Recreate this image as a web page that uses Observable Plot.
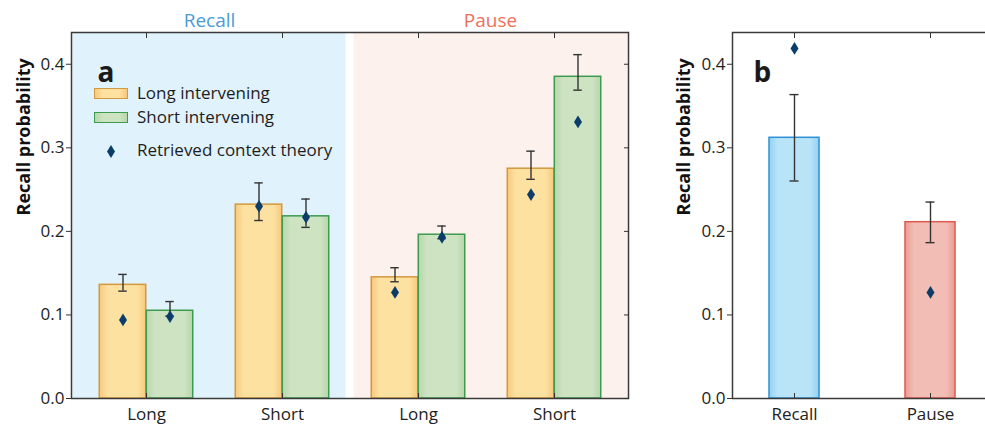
<!DOCTYPE html>
<html>
<head>
<meta charset="utf-8">
<script src="https://cdn.jsdelivr.net/npm/d3@7"></script>
<script src="https://cdn.jsdelivr.net/npm/@observablehq/plot@0.6"></script>
<style>
  html, body { margin: 0; padding: 0; background: #fff; overflow: hidden; }
  #wrap { position: relative; width: 1000px; height: 431px; display: flex; font-family: "Open Sans", sans-serif; }
  #a { position: relative; width: 640px; height: 431px; }
  #b { position: relative; width: 360px; height: 431px; }
  .leg { position: absolute; font-size: 17px; color: #1e1e1e; line-height: 1; white-space: nowrap; }
  .sw { position: absolute; width: 32px; height: 9px; border: 1.5px solid; }
</style>
</head>
<body>
<div id="wrap">
  <div id="a">
    <div class="sw" style="left:94px;top:88px;background:linear-gradient(90deg,#f6c97e,#fde1a0 25%,#fde1a0 75%,#f6c97e);border-color:#d4983e"></div>
    <div class="leg" style="left:137px;top:84px">Long intervening</div>
    <div class="sw" style="left:94px;top:112px;background:linear-gradient(90deg,#b7d6aa,#cde3c2 25%,#cde3c2 75%,#b7d6aa);border-color:#3d9b4f"></div>
    <div class="leg" style="left:137px;top:108px">Short intervening</div>
    <svg style="position:absolute;left:106px;top:144px" width="10" height="15"><polygon points="5,1 9,7.5 5,14 1,7.5" fill="#0b3d6b"/></svg>
    <div class="leg" style="left:137px;top:141px">Retrieved context theory</div>
  </div>
  <div id="b"></div>
</div>
<script>
// ---------- data (panel a) ----------
const conditions = ["Recall", "Recall", "Pause", "Pause"];
const lags = ["Long", "Short", "Long", "Short"];
const longMean  = [0.136, 0.232, 0.145, 0.275];
const longLo    = [0.1285, 0.213, 0.1397, 0.2623];
const longHi    = [0.1485, 0.258, 0.1565, 0.296];
const longModel = [0.094, 0.230, 0.127, 0.244];
const shortMean  = [0.105, 0.218, 0.196, 0.385];
const shortLo    = [0.0986, 0.2048, 0.1912, 0.369];
const shortHi    = [0.116, 0.2387, 0.2064, 0.4115];
const shortModel = [0.098, 0.217, 0.193, 0.331];
const seriesNames = ["Long intervening", "Short intervening", "Retrieved context theory"];
// ---------- data (panel b) ----------
const bConditions = ["Recall", "Pause"];
const bMean  = [0.312, 0.211];
const bLo    = [0.2603, 0.1865];
const bHi    = [0.3637, 0.2351];
const bModel = [0.419, 0.127];
// ---------- axis ----------
const yTicks = [0, 0.1, 0.2, 0.3, 0.4];
const yMax = 0.438;
const yLabel = "Recall probability";

const rows = conditions.map((c, i) => ({
  key: c + "-" + lags[i], cond: c, lag: lags[i],
  longMean: longMean[i], longLo: longLo[i], longHi: longHi[i], longModel: longModel[i],
  shortMean: shortMean[i], shortLo: shortLo[i], shortHi: shortHi[i], shortModel: shortModel[i]
}));
const keys = rows.map(d => d.key);
const lagOf = Object.fromEntries(rows.map(d => [d.key, d.lag]));
const bRows = bConditions.map((c, i) => ({cond: c, mean: bMean[i], lo: bLo[i], hi: bHi[i], model: bModel[i]}));

const ns = "http://www.w3.org/2000/svg";
function defs(id) {
  return () => {
    const d = document.createElementNS(ns, "defs");
    const g = (name, edge, mid) => `<linearGradient id="${name}${id}" x1="0" x2="1" y1="0" y2="0">
      <stop offset="0" stop-color="${edge}"/><stop offset="0.18" stop-color="${mid}"/>
      <stop offset="0.82" stop-color="${mid}"/><stop offset="1" stop-color="${edge}"/></linearGradient>`;
    d.innerHTML = g("gO", "#f6c97e", "#fde1a0") + g("gG", "#b7d6aa", "#cde3c2") +
                  g("gB", "#94d1f1", "#b9e4f8") + g("gR", "#e99c92", "#f2bdb5");
    return d;
  };
}
const tallDiamond = {
  draw(ctx, size) {
    const r = Math.sqrt(size / Math.PI);
    ctx.moveTo(0, -1.6 * r); ctx.lineTo(r, 0); ctx.lineTo(0, 1.6 * r); ctx.lineTo(-r, 0); ctx.closePath();
  }
};
const ink = "#333";
const style = {fontFamily: "'Open Sans', sans-serif", fontSize: "17px", color: "#222", background: "transparent", overflow: "visible"};

function errMarks(data, x, lo, hi, dx, capInset) {
  return [
    Plot.ruleX(data, {x, y1: lo, y2: hi, dx, stroke: ink, strokeWidth: 1.4}),
    Plot.tickY(data, {x, y: lo, dx, insetLeft: capInset, insetRight: capInset, stroke: ink, strokeWidth: 1.4}),
    Plot.tickY(data, {x, y: hi, dx, insetLeft: capInset, insetRight: capInset, stroke: ink, strokeWidth: 1.4})
  ];
}
function frameAxes(xTickFormat) {
  return [
    Plot.frame({stroke: "#3a3a3a", strokeWidth: 1.5}),
    Plot.axisY(yTicks, {tickSize: 5, tickPadding: 2, tickFormat: ".1f", label: null, stroke: ink, fontSize: 17}),
    Plot.axisY(yTicks, {anchor: "right", tickSize: 5, dx: -5, tickFormat: () => "", label: null, stroke: ink}),
    Plot.axisX({anchor: "top", tickSize: 5, dy: 5, tickFormat: () => "", label: null, stroke: ink}),
    Plot.axisX({anchor: "bottom", tickSize: 5, dy: -5, tickFormat: () => "", label: null, stroke: ink}),
    Plot.axisX({anchor: "bottom", tickSize: 0, tickPadding: 9, tickFormat: xTickFormat, label: null, fontSize: 17})
  ];
}

// ---------- panel a ----------
const half = 68.26;   // half band (px)
const barW = 47;
const plotA = Plot.plot({
  width: 640, height: 431,
  marginTop: 32, marginBottom: 33, marginLeft: 71, marginRight: 12,
  x: {domain: keys, paddingInner: 0, paddingOuter: 0.04},
  y: {domain: [0, yMax]},
  style,
  marks: [
    defs("a"),
    Plot.barY(rows.filter(d => d.cond === "Recall"), {x: "key", y1: 0, y2: yMax, fill: "#e0f2fb", insetLeft: -5.5, insetRight: 4.5}),
    Plot.barY(rows.filter(d => d.cond === "Pause"), {x: "key", y1: 0, y2: yMax, fill: "#fdf1ee", insetLeft: 3.5, insetRight: -5.5}),
    Plot.barY(rows, {x: "key", y: "longMean", fill: "url(#gOa)", stroke: "#d4983e", strokeWidth: 1.5, insetLeft: half - barW, insetRight: half}),
    Plot.barY(rows, {x: "key", y: "shortMean", fill: "url(#gGa)", stroke: "#3d9b4f", strokeWidth: 1.5, insetLeft: half, insetRight: half - barW}),
    ...errMarks(rows, "key", "longLo", "longHi", -barW / 2, half - 4.5),
    ...errMarks(rows, "key", "shortLo", "shortHi", barW / 2, half - 4.5),
    Plot.dot(rows, {x: "key", y: "longModel", dx: -barW / 2, symbol: tallDiamond, r: 4, fill: "#0b3d6b", stroke: "none"}),
    Plot.dot(rows, {x: "key", y: "shortModel", dx: barW / 2, symbol: tallDiamond, r: 4, fill: "#0b3d6b", stroke: "none"}),
    ...frameAxes(k => lagOf[k]),
    Plot.text([rows[0]], {x: "key", text: "cond", frameAnchor: "top", dx: 63, dy: -6, lineAnchor: "bottom", fill: "#4b9bd9", fontSize: 19}),
    Plot.text([rows[2]], {x: "key", text: "cond", frameAnchor: "top", dx: 72, dy: -6, lineAnchor: "bottom", fill: "#ef6f5c", fontSize: 19}),
    Plot.text(["a"], {text: d => d, frameAnchor: "top-left", dx: 26, dy: 30, textAnchor: "start", fontWeight: "bold", fontSize: 28, fill: "#1a1a1a"}),
    Plot.text([yLabel], {text: d => d, frameAnchor: "left", dx: -47, rotate: -90, fontWeight: "bold", fontSize: 18, fill: "#111"})
  ]
});
document.getElementById("a").prepend(plotA);

// ---------- panel b ----------
const plotB = Plot.plot({
  width: 360, height: 431,
  marginTop: 32, marginBottom: 33, marginLeft: 92, marginRight: 8,
  x: {domain: bConditions, paddingInner: 0.634, paddingOuter: 0.27},
  y: {domain: [0, yMax]},
  style,
  marks: [
    defs("b"),
    Plot.barY(bRows.filter(d => d.cond === "Recall"), {x: "cond", y: "mean", fill: "url(#gBb)", stroke: "#2e8fd4", strokeWidth: 1.5}),
    Plot.barY(bRows.filter(d => d.cond === "Pause"), {x: "cond", y: "mean", fill: "url(#gRb)", stroke: "#e0584e", strokeWidth: 1.5}),
    ...errMarks(bRows, "cond", "lo", "hi", 0, 20.5),
    Plot.dot(bRows, {x: "cond", y: "model", symbol: tallDiamond, r: 4, fill: "#0b3d6b", stroke: "none"}),
    ...frameAxes(d => d),
    Plot.text(["b"], {text: d => d, frameAnchor: "top-left", dx: 21, dy: 30, textAnchor: "start", fontWeight: "bold", fontSize: 28, fill: "#1a1a1a"}),
    Plot.text([yLabel], {text: d => d, frameAnchor: "left", dx: -48, rotate: -90, fontWeight: "bold", fontSize: 18, fill: "#111"})
  ]
});
document.getElementById("b").append(plotB);
</script>
</body>
</html>
